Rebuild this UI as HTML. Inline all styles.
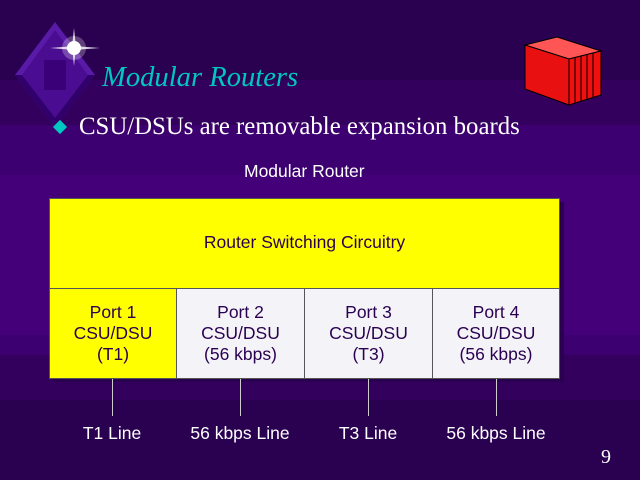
<!DOCTYPE html>
<html><head><style>
body{margin:0;width:640px;height:480px;overflow:hidden;position:relative;font-family:"Liberation Sans",sans-serif;
background:linear-gradient(to bottom,#2a0050 0,#2a0050 80px,#33005e 80px,#33005e 125px,#3c0070 125px,#3c0070 175px,#440078 175px,#440078 335px,#3c0070 335px,#3c0070 355px,#33005e 355px,#33005e 400px,#2a0050 400px);}
.a{position:absolute}
.t{position:absolute;text-align:center;color:#2a0050;font-size:17.5px;line-height:21px}
.b{position:absolute;border:1px solid #555;box-sizing:border-box}
.l{position:absolute;color:#fff;font-size:17.5px;text-align:center;width:160px}
.v{position:absolute;width:1px;height:37px;background:#ccc;top:379px}
</style></head><body>
<svg class="a" style="left:0;top:0" width="640" height="140">
<polygon points="55,22 95,75 55,128 15,75" fill="#5a1aa8"/>
<polygon points="55,30 88,75 55,120 22,75" fill="#4a0c90"/>
<polygon points="15,75 55,128 95,75 88,75 55,118 22,75" fill="#32006a"/>
<rect x="44" y="60" width="22" height="30" fill="#3a0078"/>
<g fill="#fff" opacity=".8"><polygon points="74,28 76,47 74,66 72,47"/><polygon points="50,48 74,46 100,48 74,50"/></g>
<circle cx="74" cy="48" r="7" fill="#fff"/><circle cx="74" cy="48" r="12" fill="#fff" opacity=".25"/>
<g transform="translate(525,37)">
<polygon points="0,8 32,0 76,14 44,22" fill="#ff5555" stroke="#000"/>
<polygon points="0,8 44,22 44,68 0,52" fill="#e81010" stroke="#000"/>
<polygon points="44,22 76,14 76,58 44,68" fill="#f01010" stroke="#000"/>
<g stroke="#000" stroke-width="1"><line x1="50" y1="20" x2="50" y2="66"/><line x1="56" y1="19" x2="56" y2="64"/><line x1="62" y1="17" x2="62" y2="62"/><line x1="68" y1="16" x2="68" y2="60"/></g>
</g>
</svg>
<div class="a" style="left:102px;top:62px;font:italic 28.6px 'Liberation Serif',serif;color:#00c8c0">Modular Routers</div>
<div class="a" style="left:55px;top:122px;width:10px;height:10px;background:#00c8c0;transform:rotate(45deg)"></div>
<div class="a" style="left:79px;top:113px;font:24.8px 'Liberation Serif',serif;color:#fff">CSU/DSUs are removable expansion boards</div>
<div class="a" style="left:244px;top:161px;font-size:17.5px;color:#fff">Modular Router</div>
<div class="a" style="left:53px;top:202px;width:511px;height:180px;background:#2a0050"></div>
<div class="b" style="left:49px;top:198px;width:511px;height:91px;background:#ffff00"></div>
<div class="t" style="left:49px;top:232px;width:511px">Router Switching Circuitry</div>
<div class="b" style="left:49px;top:288px;width:128px;height:91px;background:#ffff00"></div>
<div class="b" style="left:176px;top:288px;width:129px;height:91px;background:#f4f4f8"></div>
<div class="b" style="left:304px;top:288px;width:129px;height:91px;background:#f4f4f8"></div>
<div class="b" style="left:432px;top:288px;width:128px;height:91px;background:#f4f4f8"></div>
<div class="t" style="left:49px;top:302px;width:128px">Port 1<br>CSU/DSU<br>(T1)</div>
<div class="t" style="left:176px;top:302px;width:129px">Port 2<br>CSU/DSU<br>(56 kbps)</div>
<div class="t" style="left:304px;top:302px;width:129px">Port 3<br>CSU/DSU<br>(T3)</div>
<div class="t" style="left:432px;top:302px;width:128px">Port 4<br>CSU/DSU<br>(56 kbps)</div>
<div class="v" style="left:112px"></div><div class="v" style="left:240px"></div><div class="v" style="left:368px"></div><div class="v" style="left:496px"></div>
<div class="l" style="left:32px;top:423px">T1 Line</div>
<div class="l" style="left:160px;top:423px">56 kbps Line</div>
<div class="l" style="left:288px;top:423px">T3 Line</div>
<div class="l" style="left:416px;top:423px">56 kbps Line</div>
<div class="a" style="left:601px;top:446px;font:20px 'Liberation Serif',serif;color:#fff">9</div>
</body></html>
